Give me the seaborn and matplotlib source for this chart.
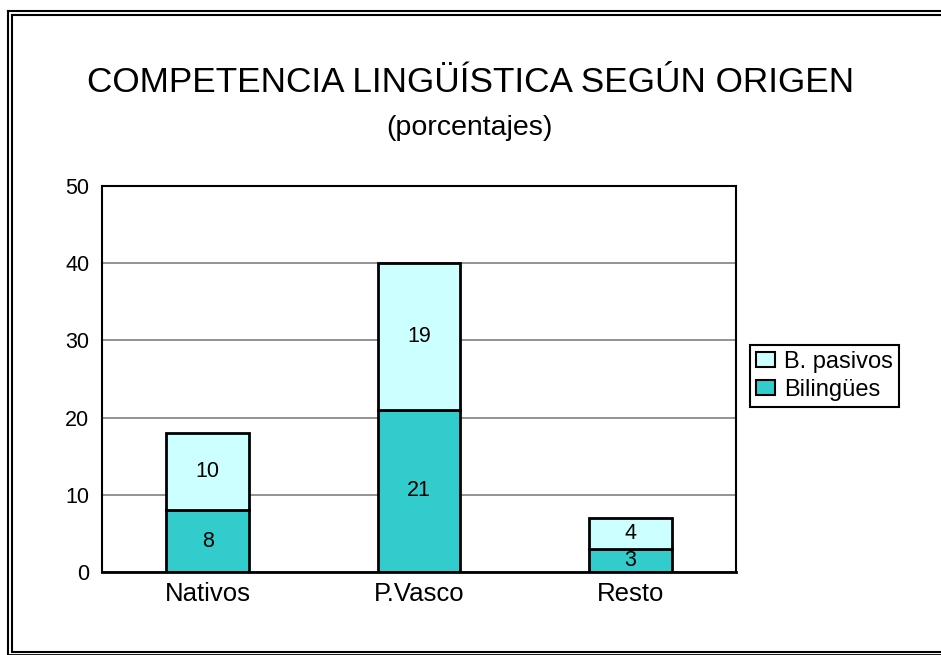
import matplotlib
matplotlib.use("Agg")
import matplotlib.pyplot as plt
import seaborn as sns
import pandas as pd
from matplotlib.patches import Patch
from matplotlib.lines import Line2D

categories = ["Nativos", "P.Vasco", "Resto"]
bilingues = [8, 21, 3]
pasivos = [10, 19, 4]
yticks = [0, 10, 20, 30, 40, 50]

sns.set_theme(style="white")
plt.rcParams['font.family'] = ['Liberation Sans', 'DejaVu Sans']

c_bil = "#33CCCC"
c_pas = "#CCFFFF"

df = pd.DataFrame({"cat": categories, "bil": bilingues, "pas": pasivos})

fig = plt.figure(figsize=(9.41, 6.55), dpi=100)
ax = fig.add_axes([102/941, 83/655, 634/941, 386/655])

sns.barplot(data=df, x="cat", y="bil", color=c_bil, saturation=1, width=0.39,
            edgecolor="black", linewidth=2, ax=ax)
sns.barplot(data=df, x="cat", y="pas", color=c_pas, saturation=1, width=0.39,
            edgecolor="black", linewidth=2, bottom=df["bil"].values, ax=ax)

for cont in ax.containers:
    ax.bar_label(cont, label_type="center", fontsize=15.5, color="black")

ax.set_ylim(0, 50)
ax.set_xlim(-0.5, 2.5)
ax.set_yticks(yticks)
ax.set_yticklabels([str(v) for v in yticks])
ax.set_xlabel("")
ax.set_ylabel("")
ax.tick_params(axis="y", labelsize=15.5, length=0, pad=9, labelcolor="black")
ax.tick_params(axis="x", labelsize=18.5, length=0, pad=7, labelcolor="black")
ax.yaxis.grid(True, color="#808080", linewidth=1.2)
ax.set_axisbelow(True)
for s in ax.spines.values():
    s.set_visible(True)
    s.set_color("black")
    s.set_linewidth(1.5)
ax.spines["bottom"].set_linewidth(2)

handles = [Patch(facecolor=c_pas, edgecolor="black", linewidth=1.5, label="B. pasivos"),
           Patch(facecolor=c_bil, edgecolor="black", linewidth=1.5, label="Bilingües")]
leg = ax.legend(handles=handles, loc="upper left", bbox_to_anchor=(1.022, 0.588),
                borderaxespad=0, fontsize=17, frameon=True, fancybox=False,
                framealpha=1, edgecolor="black", handlelength=0.8, handleheight=0.6,
                handletextpad=0.4, labelspacing=0.25, borderpad=0.25)
leg.get_frame().set_linewidth(1.5)
leg.get_frame().set_edgecolor("black")
for t in leg.get_texts():
    t.set_color("black")

fig.text(471/941, 1 - 83/655, "COMPETENCIA LINGÜÍSTICA SEGÚN ORIGEN",
         ha="center", va="center", fontsize=25.3, color="black")
fig.text(469/941, 1 - 128/655, "(porcentajes)",
         ha="center", va="center", fontsize=20.5, color="black")

# double border (open to right, outer clipped at bottom)
W, H = 941, 655
def fline(x0, y0, x1, y1, lw):
    fig.add_artist(Line2D([x0/W, x1/W], [1 - y0/H, 1 - y1/H],
                          transform=fig.transFigure, color="black",
                          linewidth=lw, solid_capstyle="projecting"))
lw = 1.5
fline(8, 11, 945, 11, lw)
fline(8, 11, 8, 660, lw)
fline(12, 15, 945, 15, lw)
fline(12, 15, 12, 652, lw)
fline(12, 652, 945, 652, lw)
fline(8, 655, 945, 655, 2)

fig.savefig("out.png", dpi=100)
